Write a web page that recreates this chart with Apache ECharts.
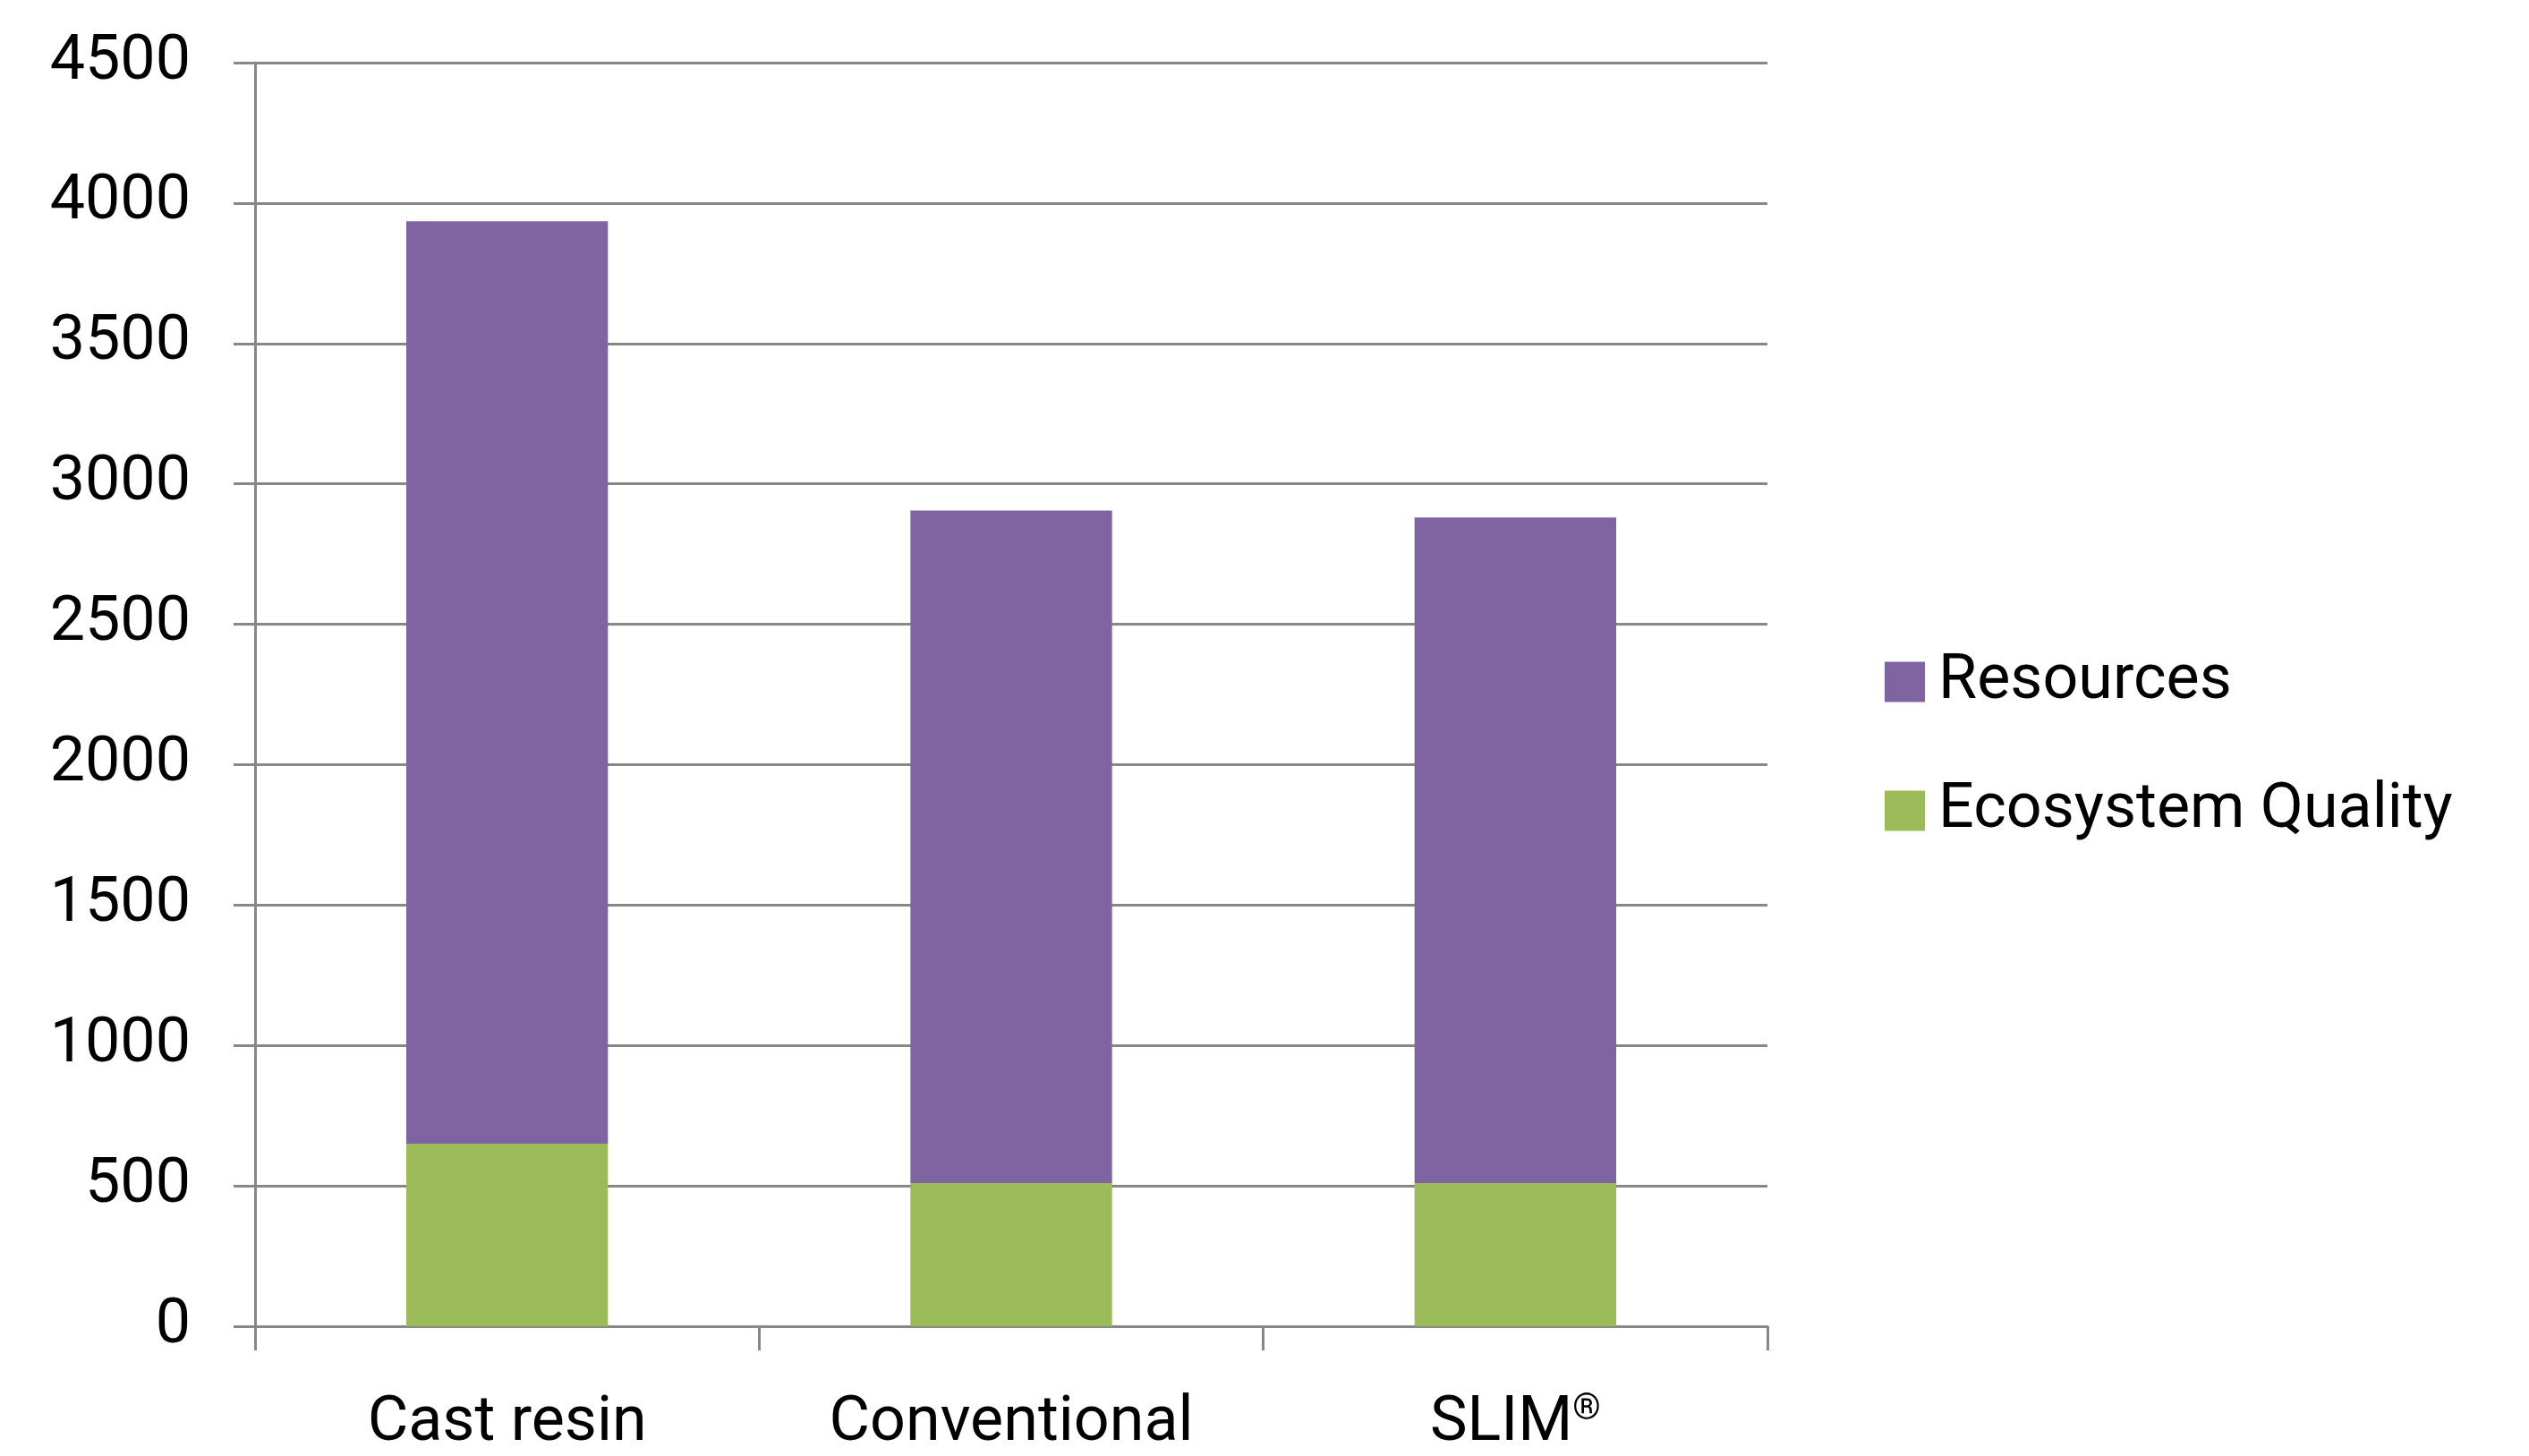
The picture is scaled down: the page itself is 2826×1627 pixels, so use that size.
<!DOCTYPE html>
<html>
<head>
<meta charset="utf-8">
<script src="https://cdn.jsdelivr.net/npm/echarts@6/dist/echarts.min.js"></script>
<style>
    html, body { margin: 0; padding: 0; background: #fff; }
    #chart { width: 2826px; height: 1627px; }
</style>
</head>
<body>
<div id="chart"></div>
<script>
let categories = ['Cast resin', 'Conventional', 'SLIM®']
let ecosystemQuality = [650, 510, 510]
let resources = [3285, 2395, 2370]
let legendNames = ['Resources', 'Ecosystem Quality']

let gridColor = '#878787'
let fontFamily = 'Roboto'

let option = {
    animation: false,
    backgroundColor: '#fff',
    textStyle: {
        fontFamily: fontFamily
    },
    legend: {
        data: legendNames,
        orient: 'vertical',
        left: 2101,
        top: 722,
        icon: 'rect',
        itemWidth: 45,
        itemHeight: 45,
        itemGap: 74,
        textStyle: {
            fontSize: 70,
            color: '#000',
            fontFamily: fontFamily,
            padding: [0, 0, 0, 10]
        }
    },
    grid: {
        left: 285,
        right: 851,
        top: 70,
        bottom: 145,
        containLabel: false
    },
    xAxis: {
        type: 'category',
        data: categories,
        boundaryGap: true,
        axisLine: {
            show: true,
            lineStyle: { color: gridColor, width: 3 }
        },
        axisTick: {
            show: true,
            length: 27,
            lineStyle: { color: gridColor, width: 3 }
        },
        axisLabel: {
            margin: 74,
            fontSize: 70,
            color: '#000',
            fontFamily: fontFamily,
            formatter: value => value.replace('®', '{sup|®}'),
            rich: {
                sup: {
                    fontSize: 40,
                    color: '#000',
                    fontFamily: fontFamily,
                    verticalAlign: 'top',
                    padding: [0, 0, 22, 0]
                }
            }
        }
    },
    yAxis: {
        type: 'value',
        min: 0,
        max: 4500,
        interval: 500,
        axisLine: {
            show: true,
            lineStyle: { color: gridColor, width: 3 }
        },
        axisTick: {
            show: true,
            length: 24,
            lineStyle: { color: gridColor, width: 3 }
        },
        splitLine: {
            show: true,
            lineStyle: { color: gridColor, width: 3 }
        },
        axisLabel: {
            margin: 72,
            fontSize: 70,
            color: '#000',
            fontFamily: fontFamily,
            formatter: value => String(value)
        }
    },
    series: [
        {
            name: 'Ecosystem Quality',
            type: 'bar',
            stack: 'total',
            barWidth: '40%',
            itemStyle: { color: '#9BBB59' },
            data: ecosystemQuality
        },
        {
            name: 'Resources',
            type: 'bar',
            stack: 'total',
            barWidth: '40%',
            itemStyle: { color: '#8064A2' },
            data: resources
        }
    ]
}

let EC = echarts.init(document.getElementById('chart'))
EC.setOption(option)
</script>
</body>
</html>
